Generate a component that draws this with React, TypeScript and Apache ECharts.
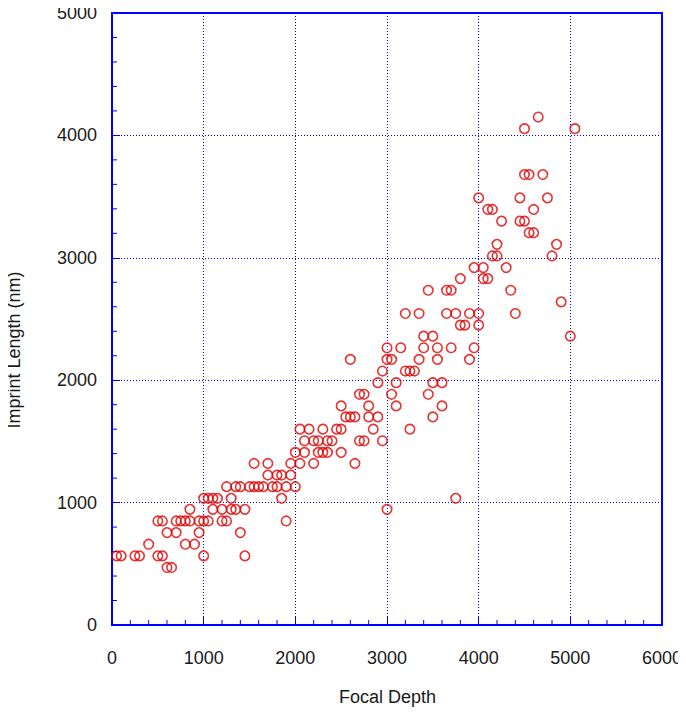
import React, { useEffect, useRef } from "react";
import * as echarts from "echarts";

// Imprint length levels (nm) and the focal depths observed at each level
const imprintLevels = [
  470, 565, 660, 755, 850, 945, 1035, 1130, 1225, 1320, 1410, 1505, 1600, 1700,
  1790, 1885, 1980, 2075, 2170, 2265, 2360, 2450, 2545, 2640, 2735, 2830, 2920,
  3015, 3110, 3205, 3300, 3395, 3490, 3680, 4055, 4150,
];
const focalDepthsByLevel = [
  [600, 650],
  [50, 100, 250, 300, 500, 550, 1000, 1450],
  [400, 800, 900],
  [600, 700, 950, 1400],
  [500, 550, 700, 750, 800, 850, 950, 1000, 1050, 1200, 1250, 1900],
  [850, 1100, 1200, 1300, 1350, 1450, 3000],
  [1000, 1050, 1100, 1150, 1300, 1850, 3750],
  [1250, 1350, 1400, 1500, 1550, 1600, 1650, 1750, 1800, 1900, 2000],
  [1700, 1800, 1850, 1950],
  [1550, 1700, 1950, 2050, 2200, 2650],
  [2000, 2100, 2250, 2300, 2350, 2500],
  [2100, 2200, 2250, 2350, 2400, 2700, 2750, 2950],
  [2050, 2150, 2300, 2450, 2500, 2850, 3250],
  [2550, 2600, 2650, 2800, 2900, 3500],
  [2500, 2800, 3100, 3600],
  [2700, 2750, 3050, 3450],
  [2900, 3100, 3500, 3600],
  [2950, 3200, 3250, 3300],
  [2600, 3000, 3050, 3350, 3550, 3900],
  [3000, 3150, 3400, 3550, 3700, 3950],
  [3400, 3500, 5000],
  [3800, 3850, 4000],
  [3200, 3350, 3650, 3750, 3900, 4000, 4400],
  [4900],
  [3450, 3650, 3700, 4350],
  [3800, 4050, 4100],
  [3950, 4050, 4300],
  [4150, 4200, 4800],
  [4200, 4850],
  [4550, 4600],
  [4250, 4450, 4500],
  [4100, 4150, 4600],
  [4000, 4450, 4750],
  [4500, 4550, 4700],
  [4500, 5050],
  [4650],
];

const xTitle = "Focal Depth";
const yTitle = "Imprint Length (nm)";

const X_MAX = 6000;
const Y_MAX = 5000;
const MAJOR = 1000;
const MINOR = 200;

const FONT = "'Liberation Sans', Arial, sans-serif";
const BLUE = "#0000ff";

export default function App() {
  const ref = useRef<HTMLDivElement>(null);

  useEffect(() => {
    if (!ref.current) return;
    const chart = echarts.init(ref.current, null, { renderer: "svg" });
    const data: number[][] = [];
    imprintLevels.forEach((y, i) => {
      focalDepthsByLevel[i].forEach((x) => data.push([x, y]));
    });

    const xMinorTicks: number[][] = [];
    for (let v = MINOR; v < X_MAX; v += MINOR) {
      if (v % MAJOR !== 0) xMinorTicks.push([v, 0]);
    }
    const yMinorTicks: number[][] = [];
    for (let v = MINOR; v < Y_MAX; v += MINOR) {
      if (v % MAJOR !== 0) yMinorTicks.push([0, v]);
    }

    const axisCommon = {
      axisLine: { show: true, onZero: false, lineStyle: { color: BLUE, width: 2 } },
      axisTick: { show: true, inside: true, length: 8, lineStyle: { color: BLUE, width: 1 } },
      minorTick: { show: false },
      splitLine: { show: true, lineStyle: { color: BLUE, width: 1, type: [1, 2] } },
      minorSplitLine: { show: false },
    };

    chart.setOption({
      animation: false,
      backgroundColor: "#ffffff",
      grid: {
        left: 112,
        right: 24,
        top: 13,
        bottom: 91,
        show: true,
        borderColor: BLUE,
        borderWidth: 2,
        backgroundColor: "transparent",
      },
      xAxis: {
        type: "value",
        min: 0,
        max: X_MAX,
        interval: MAJOR,
        ...axisCommon,
        axisLabel: {
          color: "#1a1a1a",
          fontSize: 18,
          fontFamily: FONT,
          margin: 24,
          formatter: (v: number) => String(v),
        },
      },
      yAxis: {
        type: "value",
        min: 0,
        max: Y_MAX,
        interval: MAJOR,
        ...axisCommon,
        axisLabel: {
          color: "#1a1a1a",
          fontSize: 18,
          fontFamily: FONT,
          margin: 15,
          formatter: (v: number) => String(v),
        },
      },
      graphic: [
        {
          type: "text",
          left: 387 - 48,
          top: 688,
          style: {
            text: xTitle,
            fill: "#1a1a1a",
            fontSize: 18,
            fontFamily: FONT,
          },
        },
        {
          type: "text",
          x: 14,
          y: 350,
          rotation: Math.PI / 2,
          style: {
            text: yTitle,
            fill: "#1a1a1a",
            fontSize: 18,
            fontFamily: FONT,
            align: "center",
            verticalAlign: "middle",
          },
        },
      ],
      series: [
        {
          type: "custom",
          data: xMinorTicks,
          clip: false,
          silent: true,
          renderItem: (params: any, api: any) => {
            const p = api.coord([api.value(0), 0]);
            return {
              type: "line",
              shape: { x1: p[0], y1: p[1], x2: p[0], y2: p[1] - 5 },
              style: { stroke: BLUE, lineWidth: 1 },
            };
          },
        },
        {
          type: "custom",
          data: yMinorTicks,
          clip: false,
          silent: true,
          renderItem: (params: any, api: any) => {
            const p = api.coord([0, api.value(1)]);
            return {
              type: "line",
              shape: { x1: p[0], y1: p[1], x2: p[0] + 5, y2: p[1] },
              style: { stroke: BLUE, lineWidth: 1 },
            };
          },
        },
        {
          type: "scatter",
          data,
          symbol: "circle",
          symbolSize: 9.5,
          itemStyle: {
            color: "rgba(0,0,0,0)",
            borderColor: "#e00000",
            borderWidth: 1.6,
          },
        },
      ],
    });
    return () => chart.dispose();
  }, []);

  return <div ref={ref} style={{ width: 686, height: 716, margin: -8 }} />;
}
